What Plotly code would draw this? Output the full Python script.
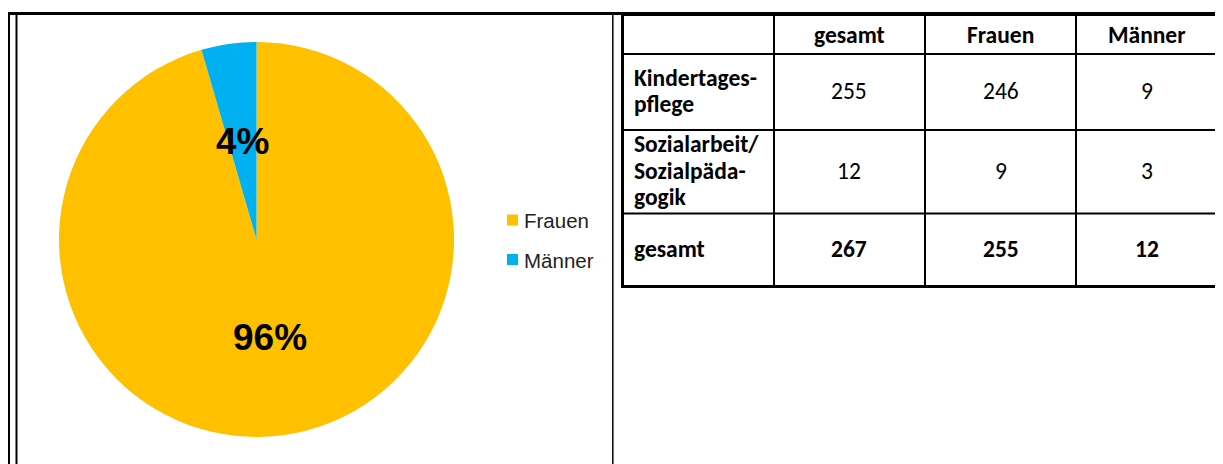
import math
import plotly.graph_objects as go

# ---------------- data ----------------
categories = ["Frauen", "Männer"]
gender_totals = [255, 12]
slice_colors = ["#FFC000", "#00B0F0"]

table_columns = ["gesamt", "Frauen", "Männer"]
table_rows = ["Kindertages-\npflege", "Sozialarbeit/\nSozialpäda-\ngogik", "gesamt"]
col_gesamt = [255, 12, 267]
col_frauen = [246, 9, 255]
col_maenner = [9, 3, 12]

# ---------------- layout helpers (page pixels -> paper) ----------------
# the page body has an 8px margin, so the figure starts at (8, 8)
OFF = 8
PW, PH = 1223, 464
W, H = PW - OFF, PH - OFF


def fx(x):
    return (x - OFF) / W


def fy(y):
    return 1 - (y - OFF) / H


fig = go.Figure()

# ---------------- pie ----------------
cx, cy, r = 256.5, 239.5, 197.5
fig.add_trace(go.Pie(
    labels=categories,
    values=gender_totals,
    marker=dict(colors=slice_colors, line=dict(width=0)),
    sort=False,
    direction="clockwise",
    rotation=0,
    textinfo="none",
    hoverinfo="label+value+percent",
    showlegend=False,
    domain=dict(x=[fx(cx - r), fx(cx + r)], y=[fy(cy + r), fy(cy - r)]),
))

annotations = []
shapes = []

# percent labels at half radius on each slice's mid angle
total = sum(gender_totals)
cum = 0.0
for v in gender_totals:
    frac = v / total
    mid = (cum + frac / 2) * 2 * math.pi
    cum += frac
    lx = cx + 0.5 * r * math.sin(mid)
    ly = cy - 0.5 * r * math.cos(mid)
    annotations.append(dict(
        x=fx(lx), y=fy(ly), xref="paper", yref="paper",
        text="<b>%d%%</b>" % round(frac * 100), showarrow=False,
        xanchor="center", yanchor="middle",
        font=dict(family="Liberation Sans, Arial", size=37, color="black"),
    ))

# manual legend
leg_y = [220, 259.5]
for name, col, yy in zip(categories, slice_colors, leg_y):
    shapes.append(dict(type="rect", xref="paper", yref="paper",
                       x0=fx(507), x1=fx(518), y0=fy(yy - 5.5), y1=fy(yy + 5.5),
                       fillcolor=col, line=dict(width=0)))
    annotations.append(dict(
        x=fx(522), y=fy(yy + 0.5), xref="paper", yref="paper", text=name,
        showarrow=False, xanchor="left", yanchor="middle",
        font=dict(family="Liberation Sans, Arial", size=20.5, color="#222222"),
    ))


def line(x0, y0, x1, y1, w):
    shapes.append(dict(type="line", xref="paper", yref="paper",
                       x0=fx(x0), y0=fy(y0), x1=fx(x1), y1=fy(y1),
                       line=dict(color="black", width=w)))


# ---------------- frame ----------------
line(8, 13.5, PW, 13.5, 3)
line(9, 12, 9, PH, 2)
line(16.5, 12, 16.5, PH, 2)
line(612.8, 12, 612.8, PH, 1.5)
line(1217, 12, 1217, PH, 2)

# ---------------- table ----------------
col_edges = [622.5, 774, 925, 1076, 1217]
row_edges = [14, 54, 130, 213.5, 286.5]

line(622.5, 12, 622.5, 288, 3)
line(621, 14, 1217, 14, 4)
line(621, 286.5, PW, 286.5, 3)
for yy in row_edges[1:-1]:
    line(622.5, yy, PW, yy, 2)
for xx in col_edges[1:-1]:
    line(xx, 14, xx, 286.5, 2)

tfont = "Carlito, Lato, Calibri, sans-serif"
tsize = 23.5
line_gap = 26.5

# header
for i, name in enumerate(table_columns):
    xc = (col_edges[i + 1] + col_edges[i + 2]) / 2
    yc = (row_edges[0] + row_edges[1]) / 2 + 1
    annotations.append(dict(x=fx(xc), y=fy(yc), xref="paper", yref="paper",
                            text="<b>%s</b>" % name, showarrow=False,
                            xanchor="center", yanchor="middle",
                            font=dict(family=tfont, size=tsize, color="black")))

columns_vals = [col_gesamt, col_frauen, col_maenner]
for j, rname in enumerate(table_rows):
    yc = (row_edges[j + 1] + row_edges[j + 2]) / 2
    bold = (j == len(table_rows) - 1)
    parts = rname.split("\n")
    n = len(parts)
    for k, p in enumerate(parts):
        ly = yc + (k - (n - 1) / 2) * line_gap - 1
        annotations.append(dict(x=fx(632), y=fy(ly), xref="paper", yref="paper",
                                text="<b>%s</b>" % p, showarrow=False,
                                xanchor="left", yanchor="middle",
                                font=dict(family=tfont, size=tsize, color="black")))
    for i, vals in enumerate(columns_vals):
        xc = (col_edges[i + 1] + col_edges[i + 2]) / 2
        txt = "<b>%d</b>" % vals[j] if bold else "%d" % vals[j]
        annotations.append(dict(x=fx(xc), y=fy(yc - 1), xref="paper", yref="paper",
                                text=txt, showarrow=False,
                                xanchor="center", yanchor="middle",
                                font=dict(family=tfont, size=tsize, color="black")))

fig.update_layout(
    width=W, height=H, autosize=False,
    margin=dict(l=0, r=0, t=0, b=0),
    paper_bgcolor="white", plot_bgcolor="white",
    shapes=shapes, annotations=annotations,
    showlegend=False,
)

fig.write_html("out.html")
